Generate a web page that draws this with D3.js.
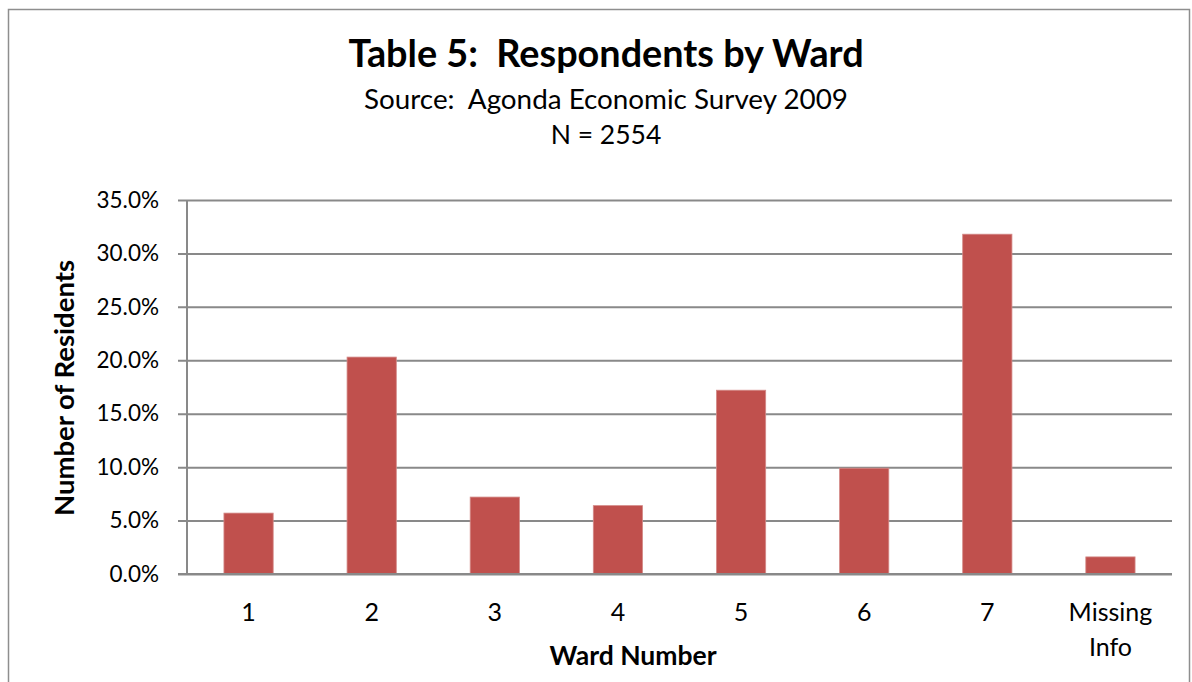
<!DOCTYPE html>
<html>
<head>
<meta charset="utf-8">
<script src="https://cdn.jsdelivr.net/npm/d3@7"></script>
<style>
  html, body { margin: 0; padding: 0; background: #fff; }
  svg { display: block; font-family: Lato, "Open Sans", sans-serif; }
  text { white-space: pre; }
</style>
</head>
<body>
<svg id="chart" width="1192" height="682"></svg>
<script>
// Share of survey respondents in each ward
const categories = ["1", "2", "3", "4", "5", "6", "7", "Missing Info"];
const shares = [0.057, 0.203, 0.072, 0.064, 0.172, 0.099, 0.318, 0.016];
const yTicks = [0, 0.05, 0.10, 0.15, 0.20, 0.25, 0.30, 0.35];

const titleText = "Table 5:  Respondents by Ward";
const subtitleText = "Source:  Agonda Economic Survey 2009";
const countText = "N = 2554";
const xTitle = "Ward Number";
const yTitle = "Number of Residents";

const svg = d3.select("#chart");
const plot = { left: 187, right: 1172, top: 200, bottom: 574 };
const gridColor = "#898989";
const barColor = "#C0504D";

// outer chart frame
svg.append("rect")
  .attr("x", 8.5).attr("y", 9.5)
  .attr("width", 1181).attr("height", 700)
  .attr("fill", "#fff").attr("stroke", "#8e8e8e").attr("stroke-width", 1.5);

const x = d3.scaleBand()
  .domain(categories)
  .range([plot.left, plot.right])
  .paddingInner(0.6)
  .paddingOuter(0.3);

const y = d3.scaleLinear()
  .domain([0, 0.35])
  .range([plot.bottom, plot.top]);

// horizontal gridlines with tick labels
const yAxis = svg.append("g")
  .attr("transform", `translate(${plot.left},0)`)
  .call(d3.axisLeft(y)
    .tickValues(yTicks)
    .tickFormat(d3.format(".1%"))
    .tickSizeInner(-(plot.right - plot.left))
    .tickSizeOuter(0)
    .tickPadding(28));
yAxis.select(".domain").remove();
yAxis.selectAll(".tick line")
  .attr("x1", -9)
  .attr("stroke", gridColor).attr("stroke-width", 2);
yAxis.selectAll(".tick text")
  .attr("font-size", 22.5).attr("fill", "#000")
  .attr("font-family", "Lato, sans-serif");

// vertical axis line
svg.append("line")
  .attr("x1", plot.left).attr("x2", plot.left)
  .attr("y1", plot.top).attr("y2", plot.bottom)
  .attr("stroke", gridColor).attr("stroke-width", 2);

// bars
svg.append("g").selectAll("rect")
  .data(categories.map((c, i) => ({ c, v: shares[i] })))
  .join("rect")
  .attr("x", d => x(d.c))
  .attr("y", d => y(d.v))
  .attr("width", x.bandwidth())
  .attr("height", d => y(0) - y(d.v))
  .attr("fill", barColor)
  .attr("stroke", "#d48a88").attr("stroke-width", 0.8);

// baseline drawn over the bars
svg.append("line")
  .attr("x1", plot.left - 9).attr("x2", plot.right)
  .attr("y1", y(0)).attr("y2", y(0))
  .attr("stroke", gridColor).attr("stroke-width", 2);

// category labels
const xl = svg.append("g").attr("font-size", 25).attr("text-anchor", "middle");
categories.forEach(c => {
  const t = xl.append("text")
    .attr("x", x(c) + x.bandwidth() / 2)
    .attr("y", 621);
  c.split(" ").forEach((w, i) => {
    t.append("tspan")
      .attr("x", x(c) + x.bandwidth() / 2)
      .attr("dy", i === 0 ? 0 : 35)
      .text(w);
  });
});

// axis titles
svg.append("text")
  .attr("x", 633).attr("y", 665)
  .attr("text-anchor", "middle")
  .attr("font-size", 26.5).attr("font-weight", "bold")
  .text(xTitle);

svg.append("text")
  .attr("transform", "translate(74,388) rotate(-90)")
  .attr("text-anchor", "middle")
  .attr("font-size", 27.5).attr("font-weight", "bold")
  .text(yTitle);

// titles
svg.append("text")
  .attr("x", 606).attr("y", 67)
  .attr("text-anchor", "middle")
  .attr("font-size", 37.8).attr("font-weight", "bold")
  .text(titleText);

svg.append("text")
  .attr("x", 606).attr("y", 109)
  .attr("text-anchor", "middle")
  .attr("font-size", 27.8)
  .text(subtitleText);

svg.append("text")
  .attr("x", 606).attr("y", 144)
  .attr("text-anchor", "middle")
  .attr("font-size", 26.5)
  .text(countText);
</script>
</body>
</html>
